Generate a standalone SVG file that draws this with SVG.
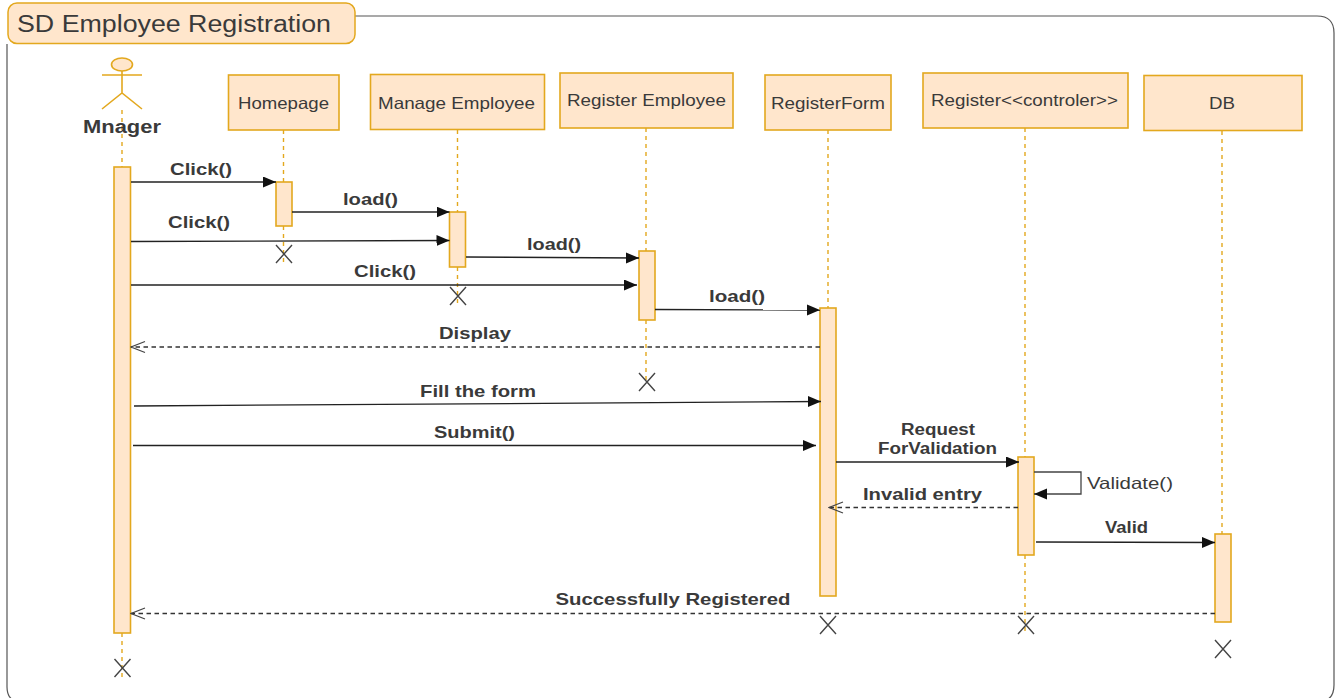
<svg xmlns="http://www.w3.org/2000/svg" width="1338" height="698" viewBox="0 0 1338 698">
<style>
text{font-family:"Liberation Sans",Arial,sans-serif;fill:#3a3a3a;text-anchor:start}
.b{fill:#ffe6cc;stroke:#e3a81e;stroke-width:1.6}
.a{fill:#ffe6cc;stroke:#e3a81e;stroke-width:1.6}
.ll{stroke:#e3a81e;stroke-width:1.4;stroke-dasharray:4 4;fill:none}
.m{stroke:#222;stroke-width:1.3;fill:none}
.d{stroke:#333;stroke-width:1.3;fill:none;stroke-dasharray:4.5 3.5}
.x{stroke:#444;stroke-width:1.4;fill:none}
.t{font-size:16.5px}
.l{font-size:16.5px;font-weight:bold}
.s{font-size:16px;font-weight:bold}
</style>
<defs>
<marker id="f" markerUnits="userSpaceOnUse" markerWidth="14" markerHeight="12" refX="13" refY="5.500" orient="auto"><path d="M0 0L13 5.500L0 11Z" fill="#111"/></marker>
<marker id="o" markerUnits="userSpaceOnUse" markerWidth="16" markerHeight="14" refX="15" refY="6.500" orient="auto"><path d="M1 1L15 6.500L1 12" fill="none" stroke="#444" stroke-width="1.200"/></marker>
</defs>
<g id="frame">
<path d="M355 16H1317Q1334 16 1334 33V685Q1334 702 1317 702H22Q7 702 7 687V44" fill="#fff" stroke="#555" stroke-width="1.200"/>
<rect x="8" y="3" width="347" height="40.500" rx="9" fill="#ffe6cc" stroke="#e3a81e" stroke-width="1.500"/>
<text x="17" y="32" style="font-size:23.500px" textLength="314" lengthAdjust="spacingAndGlyphs">SD Employee Registration</text>
</g>
<g id="lifelines">
<path class="ll" d="M122 110V167M122 633V677M283.500 130V182M283.500 226V265M457.500 130V212M457.500 267V305M646 128V251M646 320V380M828 130V308M1025 128V457M1025 555V635M1222 131V534"/>
</g>
<g id="manager">
<ellipse cx="122" cy="64.500" rx="10.500" ry="6.500" fill="#ffe6cc" stroke="#e3a81e" stroke-width="1.600"/>
<path d="M122 71V93M102 75H142M102 109L122 93L142 109" fill="none" stroke="#e3a81e" stroke-width="1.600"/>
<text x="83" y="133" style="font-size:17.500px;font-weight:bold" textLength="78" lengthAdjust="spacingAndGlyphs">Mnager</text>
<rect class="a" x="114" y="167" width="16.500" height="466"/>
</g>
<g id="homepage"><rect class="b" x="228.500" y="75" width="110.500" height="55"/><text class="t" x="238" y="109" textLength="91" lengthAdjust="spacingAndGlyphs">Homepage</text><rect class="a" x="276" y="182" width="16" height="44"/></g>
<g id="manage-employee"><rect class="b" x="370.500" y="74.500" width="174" height="55"/><text class="t" x="378" y="109" textLength="157" lengthAdjust="spacingAndGlyphs">Manage Employee</text><rect class="a" x="449.500" y="212" width="16" height="55"/></g>
<g id="register-employee"><rect class="b" x="560" y="73" width="173" height="55"/><text class="t" x="567" y="106" textLength="159" lengthAdjust="spacingAndGlyphs">Register Employee</text><rect class="a" x="639" y="251" width="16" height="69"/></g>
<g id="register-form"><rect class="b" x="765" y="75" width="126" height="55"/><text class="t" x="771" y="109" textLength="114" lengthAdjust="spacingAndGlyphs">RegisterForm</text><rect class="a" x="820" y="308" width="16" height="288"/></g>
<g id="register-controller"><rect class="b" x="923" y="73" width="205" height="55"/><text class="t" x="931" y="106" textLength="187" lengthAdjust="spacingAndGlyphs">Register&lt;&lt;controler&gt;&gt;</text><rect class="a" x="1018" y="457" width="16" height="98"/></g>
<g id="db"><rect class="b" x="1144" y="75.500" width="158" height="55"/><text class="t" x="1209" y="109" textLength="26" lengthAdjust="spacingAndGlyphs">DB</text><rect class="a" x="1215" y="534" width="16" height="88"/></g>
<g id="destroys">
<path class="x" d="M276 245L292 263M292 245L276 263M450 287L466 305M466 287L450 305M639 373L655 391M655 373L639 391M114.500 659L130.500 677M130.500 659L114.500 677M820 616L836 634M836 616L820 634M1018 616L1034 634M1034 616L1018 634M1215 640L1231 658M1231 640L1215 658"/>
</g>
<g id="connectors">
<path class="m" marker-end="url(#f)" d="M131 182H276"/>
<path class="m" marker-end="url(#f)" d="M292 212H449.500"/>
<path class="m" marker-end="url(#f)" d="M131 241.500L449.500 240.500"/>
<path class="m" marker-end="url(#f)" d="M466 257L639 258"/>
<path class="m" marker-end="url(#f)" d="M131 285H637"/>
<path class="m" marker-end="url(#f)" d="M655 309.500L820 310"/>
<path class="d" marker-end="url(#o)" d="M820 347H131"/>
<path class="m" marker-end="url(#f)" d="M134 406L821 401.500"/>
<path class="m" marker-end="url(#f)" d="M133 445.500H816"/>
<path class="m" marker-end="url(#f)" d="M836 462H1019"/>
<path class="m" marker-end="url(#f)" d="M1034 472H1081V494H1034" style="stroke:#444"/>
<path class="d" marker-end="url(#o)" d="M1018 507.500H829"/>
<path class="m" marker-end="url(#f)" d="M1036 542L1215 542.500"/>
<path class="d" marker-end="url(#o)" d="M1215 613.500H131"/>
</g>
<g id="labels">
<text class="l" x="170" y="175" textLength="62" lengthAdjust="spacingAndGlyphs">Click()</text>
<text class="l" x="343" y="205" textLength="55" lengthAdjust="spacingAndGlyphs">load()</text>
<text class="l" x="168" y="228" textLength="62" lengthAdjust="spacingAndGlyphs">Click()</text>
<text class="l" x="527" y="250" textLength="54" lengthAdjust="spacingAndGlyphs">load()</text>
<text class="l" x="354" y="277" textLength="62" lengthAdjust="spacingAndGlyphs">Click()</text>
<text class="l" x="709" y="302" textLength="56" lengthAdjust="spacingAndGlyphs">load()</text>
<text class="l" x="439" y="339" textLength="72" lengthAdjust="spacingAndGlyphs">Display</text>
<text class="l" x="420" y="397" textLength="116" lengthAdjust="spacingAndGlyphs">Fill the form</text>
<text class="l" x="434" y="438" textLength="81" lengthAdjust="spacingAndGlyphs">Submit()</text>
<text class="s" x="901" y="435" textLength="74" lengthAdjust="spacingAndGlyphs">Request</text>
<text class="s" x="878" y="454" textLength="119" lengthAdjust="spacingAndGlyphs">ForValidation</text>
<text x="1087" y="489" style="font-size:16.500px" textLength="86" lengthAdjust="spacingAndGlyphs">Validate()</text>
<text class="l" x="863" y="500" textLength="119" lengthAdjust="spacingAndGlyphs">Invalid entry</text>
<text class="s" x="1105" y="533" textLength="43" lengthAdjust="spacingAndGlyphs">Valid</text>
<text class="l" x="555.500" y="605" textLength="235" lengthAdjust="spacingAndGlyphs">Successfully Registered</text>
</g>
</svg>
